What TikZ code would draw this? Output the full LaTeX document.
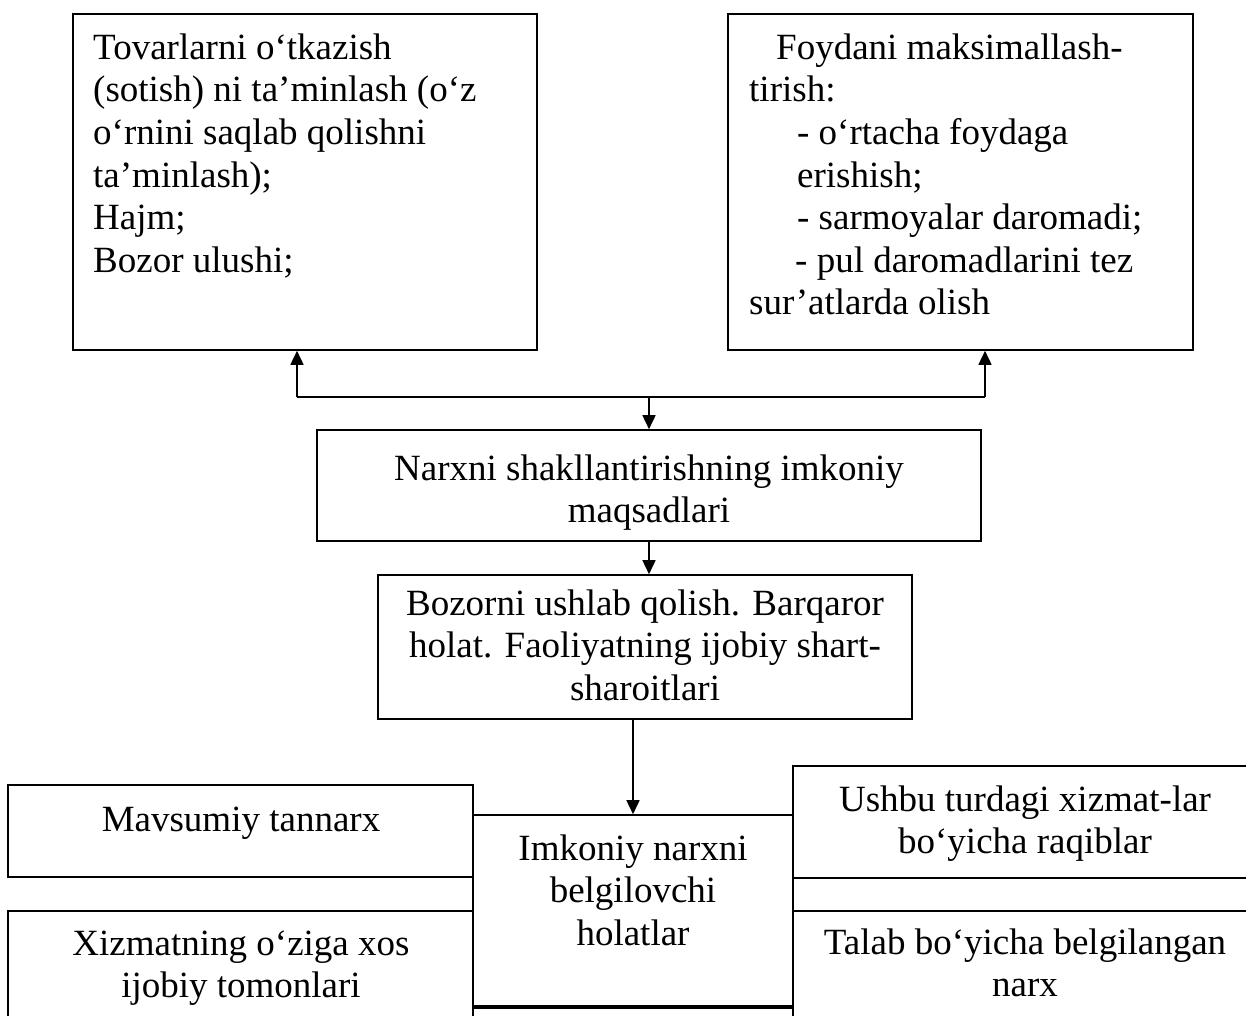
\documentclass[tikz,border=0pt]{standalone}
\usepackage{fontspec}
\setmainfont{Liberation Serif}
\usetikzlibrary{arrows.meta}
\begin{document}
\begin{tikzpicture}[x=1pt,y=-1pt,
  box/.style={draw, line width=1.6pt, inner sep=0pt, rectangle},
  txt/.style={inner sep=0pt, font=\fontsize{37}{42.6}\selectfont},
  arr/.style={line width=1.6pt, -{Triangle[length=14pt,width=13pt]}},
  ln/.style={line width=1.6pt}]
\useasboundingbox (0,0) rectangle (1246,1016);
\fill[white] (0,0) rectangle (1246,1016);
\clip (0,0) rectangle (1246,1016);
% boxes
\node[box, minimum width=464pt, minimum height=336pt] (A) at (305,182) {};
\node[box, minimum width=465pt, minimum height=336pt] (B) at (960.5,182) {};
\node[box, minimum width=664pt, minimum height=111pt] (C) at (649,485.5) {};
\node[box, minimum width=534pt, minimum height=144pt] (D) at (645,647) {};
\node[box, minimum width=320pt, minimum height=191pt] (E) at (633,910.5) {};
\node[box, minimum width=320pt, minimum height=52pt] (F) at (633,1034) {};
\node[box, minimum width=465pt, minimum height=92pt] (M) at (240.5,831) {};
\node[box, minimum width=465pt, minimum height=149pt] (X) at (240.5,985.5) {};
\node[box, minimum width=464pt, minimum height=112pt] (U) at (1025,822) {};
\node[box, minimum width=464pt, minimum height=149pt] (T) at (1025,985.5) {};
% texts
\node[txt, anchor=north west, align=left] (tA) at (93,29.2)
  {\strut Tovarlarni o‘tkazish\\(sotish) ni ta’minlash (o‘z\\o‘rnini saqlab qolishni\\ta’minlash);\\Hajm;\\Bozor ulushi;};
\node[txt, anchor=north west, align=left] (tB) at (749,29.2)
  {\strut\hspace*{27pt}Foydani maksimallash-\\tirish:\\\hspace*{48pt}- o‘rtacha foydaga\\\hspace*{48pt}erishish;\\\hspace*{48pt}- sarmoyalar daromadi;\\\hspace*{46pt}- pul daromadlarini tez\\sur’atlarda olish};
\node[txt, anchor=north, align=center] (tC) at (649,450.2)
  {\strut Narxni shakllantirishning imkoniy\\maqsadlari};
\node[txt, anchor=north, align=center] (tD) at (645,585.2)
  {\strut Bozorni ushlab qolish. Barqaror\\holat. Faoliyatning ijobiy shart-\\sharoitlari};
\node[txt, anchor=north, align=center] (tE) at (633,830.2)
  {\strut Imkoniy narxni\\belgilovchi\\holatlar};
\node[txt, anchor=north, align=center] (tM) at (241,801.2)
  {\strut Mavsumiy tannarx};
\node[txt, anchor=north, align=center] (tX) at (241,925.2)
  {\strut Xizmatning o‘ziga xos\\ijobiy tomonlari};
\node[txt, anchor=north, align=center] (tU) at (1025,781.2)
  {\strut Ushbu turdagi xizmat-lar\\bo‘yicha raqiblar};
\node[txt, anchor=north, align=center] (tT) at (1025,924.2)
  {\strut Talab bo‘yicha belgilangan\\narx};
% connectors
\coordinate (jl) at (297,397);
\coordinate (jr) at (985,397);
\coordinate (jc) at (C.north |- jl);
\draw[ln] (jl) -- (jr);
\draw[arr] (jl) -- (jl |- A.south);
\draw[arr] (jr) -- (jr |- B.south);
\draw[arr] (jc) -- (C.north);
\draw[arr] (C.south) -- (C.south |- D.north);
\draw[arr] (E.north |- D.south) -- (E.north);
\end{tikzpicture}
\end{document}
